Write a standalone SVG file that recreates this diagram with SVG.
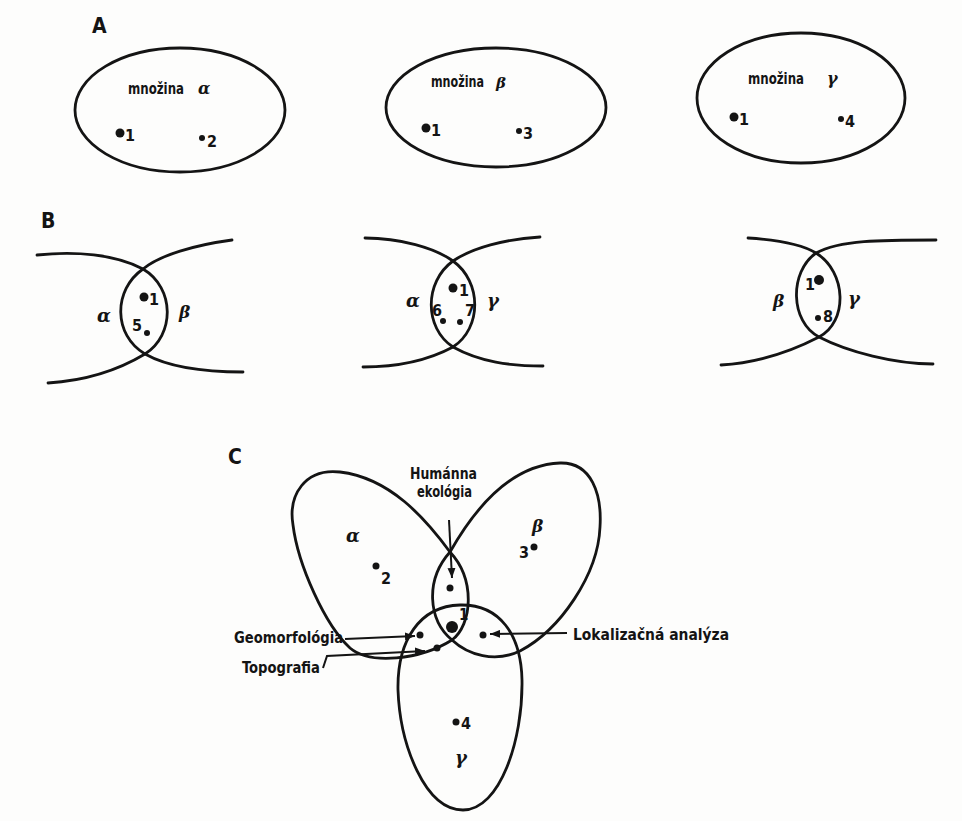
<svg xmlns="http://www.w3.org/2000/svg" width="962" height="821" viewBox="0 0 962 821">
<style>
.c{fill:none;stroke:#141414;stroke-width:2.8;stroke-linecap:round;stroke-linejoin:round}
.a{fill:none;stroke:#141414;stroke-width:2}
.t{font-family:"Liberation Sans Narrow","DejaVu Sans Condensed","Liberation Sans",sans-serif;font-weight:bold;fill:#141414}
.g{font-family:"DejaVu Serif","Liberation Serif",serif;font-style:italic;font-weight:bold;fill:#141414}
.d{fill:#141414}
</style>
<defs>
<marker id="ah" viewBox="0 0 10 8" refX="10" refY="4" markerWidth="10" markerHeight="8" markerUnits="userSpaceOnUse" orient="auto"><path d="M0,0 L10,4 L0,8 z" fill="#141414"/></marker>
</defs>
<rect width="962" height="821" fill="#fdfdfc"/>

<!-- Part A -->
<g id="labelA"><text class="t" x="92" y="33" font-size="21">A</text></g>
<g id="setAlpha">
<ellipse class="c" cx="180" cy="110" rx="105" ry="62"/>
<text class="t" x="128" y="94" font-size="15" textLength="56" lengthAdjust="spacingAndGlyphs">množina</text>
<text class="g" x="198" y="94" font-size="16">α</text>
<circle class="d" cx="120" cy="133" r="4.5"/><text class="t" x="125" y="141" font-size="16">1</text>
<circle class="d" cx="202" cy="138" r="3"/><text class="t" x="207" y="147" font-size="16">2</text>
</g>
<g id="setBeta">
<ellipse class="c" cx="496" cy="107.5" rx="110" ry="59.5"/>
<text class="t" x="431" y="87" font-size="15" textLength="53" lengthAdjust="spacingAndGlyphs">množina</text>
<text class="g" x="496" y="88" font-size="15">β</text>
<circle class="d" cx="426" cy="128" r="4.5"/><text class="t" x="431" y="136" font-size="16">1</text>
<circle class="d" cx="519" cy="131" r="3"/><text class="t" x="523" y="139" font-size="16">3</text>
</g>
<g id="setGamma">
<ellipse class="c" cx="801" cy="98" rx="104" ry="65"/>
<text class="t" x="748" y="84" font-size="15" textLength="56" lengthAdjust="spacingAndGlyphs">množina</text>
<text class="g" x="827" y="84" font-size="16">γ</text>
<circle class="d" cx="734" cy="117" r="4.5"/><text class="t" x="739" y="125" font-size="16">1</text>
<circle class="d" cx="841" cy="119" r="3"/><text class="t" x="845" y="127" font-size="16">4</text>
</g>

<!-- Part B -->
<g id="labelB"><text class="t" x="41" y="228" font-size="21">B</text></g>
<g id="lensAlphaBeta">
<path class="c" d="M37,255 C75,251 115,254 143,269 C175,288 175,335 145,354 C115,372 80,381 48,383"/>
<path class="c" d="M232,240 C195,245 160,255 143,269 C113,290 113,335 145,354 C170,368 205,372 243,372"/>
<text class="g" x="97" y="322" font-size="18">α</text>
<text class="g" x="179" y="318" font-size="17">β</text>
<circle class="d" cx="144" cy="297" r="4.5"/><text class="t" x="149" y="305" font-size="16">1</text>
<text class="t" x="132" y="331" font-size="16">5</text><circle class="d" cx="147" cy="333" r="3"/>
</g>
<g id="lensAlphaGamma">
<path class="c" d="M365,238 C400,238 435,248 453,261 C482,282 482,328 453,347 C425,362 395,367 363,367"/>
<path class="c" d="M540,237 C505,239 472,248 453,261 C424,282 424,328 453,347 C480,362 510,366 543,366"/>
<text class="g" x="406" y="307" font-size="18">α</text>
<text class="g" x="487" y="307" font-size="18">γ</text>
<circle class="d" cx="453" cy="288" r="4.5"/><text class="t" x="459" y="296" font-size="16">1</text>
<text class="t" x="432" y="316" font-size="16">6</text><circle class="d" cx="443" cy="321" r="3"/>
<text class="t" x="465" y="316" font-size="16">7</text><circle class="d" cx="460" cy="322" r="3"/>
</g>
<g id="lensBetaGamma">
<path class="c" d="M748,238 C780,240 803,245 816,253 C847,272 848,322 819,337 C790,352 755,363 721,365"/>
<path class="c" d="M936,240 C880,240 840,240 816,253 C789,272 790,322 819,337 C848,352 895,364 933,364"/>
<text class="g" x="773" y="307" font-size="17">β</text>
<text class="g" x="848" y="305" font-size="18">γ</text>
<text class="t" x="805" y="290" font-size="16">1</text><circle class="d" cx="819" cy="280" r="5"/>
<circle class="d" cx="818" cy="318" r="3"/><text class="t" x="823" y="322" font-size="16">8</text>
</g>

<!-- Part C -->
<g id="labelC"><text class="t" x="228" y="464" font-size="21">C</text></g>
<g id="loopAlpha">
<path class="c" d="M450,552 C425,518 390,478 340,472 C305,468 288,495 293,525 C298,565 325,625 350,648 C370,665 420,660 452,640 C472,625 476,580 450,552 Z"/>
<text class="g" x="346" y="542" font-size="18">α</text>
<circle class="d" cx="376" cy="566" r="3.5"/><text class="t" x="381" y="584" font-size="16">2</text>
</g>
<g id="loopBeta">
<path class="c" d="M450,552 C475,508 510,465 560,463 C592,462 602,495 600,527 C598,575 560,630 520,651 C495,663 468,655 452,640 C428,620 425,580 450,552 Z"/>
<text class="g" x="532" y="532" font-size="17">β</text>
<text class="t" x="519" y="558" font-size="16">3</text><circle class="d" cx="534" cy="547" r="3.5"/>
</g>
<g id="eggGamma">
<path class="c" d="M460,605 C500,604 521,635 522,680 C523,740 500,810 463,810 C425,810 400,745 398,690 C397,640 420,606 460,605 Z"/>
<circle class="d" cx="456" cy="722" r="3.5"/><text class="t" x="461" y="729" font-size="16">4</text>
<text class="g" x="455" y="764" font-size="18">γ</text>
</g>
<g id="centerDots">
<circle class="d" cx="450" cy="588" r="3.5"/>
<circle class="d" cx="452" cy="627" r="6"/><text class="t" x="459" y="620" font-size="15">1</text>
<circle class="d" cx="420" cy="635" r="3.5"/>
<circle class="d" cx="437" cy="648" r="3.5"/>
<circle class="d" cx="483" cy="635" r="3.5"/>
</g>
<g id="humannaEkologia">
<text class="t" x="410" y="479" font-size="15" textLength="67" lengthAdjust="spacingAndGlyphs">Humánna</text>
<text class="t" x="417" y="497" font-size="15" textLength="55" lengthAdjust="spacingAndGlyphs">ekológia</text>
</g>
<g id="geomorfologia"><text class="t" x="234" y="643" font-size="15" textLength="109" lengthAdjust="spacingAndGlyphs">Geomorfológia</text></g>
<g id="topografia"><text class="t" x="242" y="673" font-size="15" textLength="78" lengthAdjust="spacingAndGlyphs">Topografia</text></g>
<g id="lokalizacna"><text class="t" x="573" y="640" font-size="15" textLength="156" lengthAdjust="spacingAndGlyphs">Lokalizačná analýza</text></g>

<g id="connectors">
<line class="a" x1="449" y1="520" x2="452" y2="578" marker-end="url(#ah)"/>
<line class="a" x1="345" y1="639" x2="415" y2="636" marker-end="url(#ah)"/>
<polyline class="a" points="323,668 327,656 425,651" marker-end="url(#ah)"/>
<line class="a" x1="567" y1="633" x2="490" y2="634" marker-end="url(#ah)"/>
</g>
</svg>
